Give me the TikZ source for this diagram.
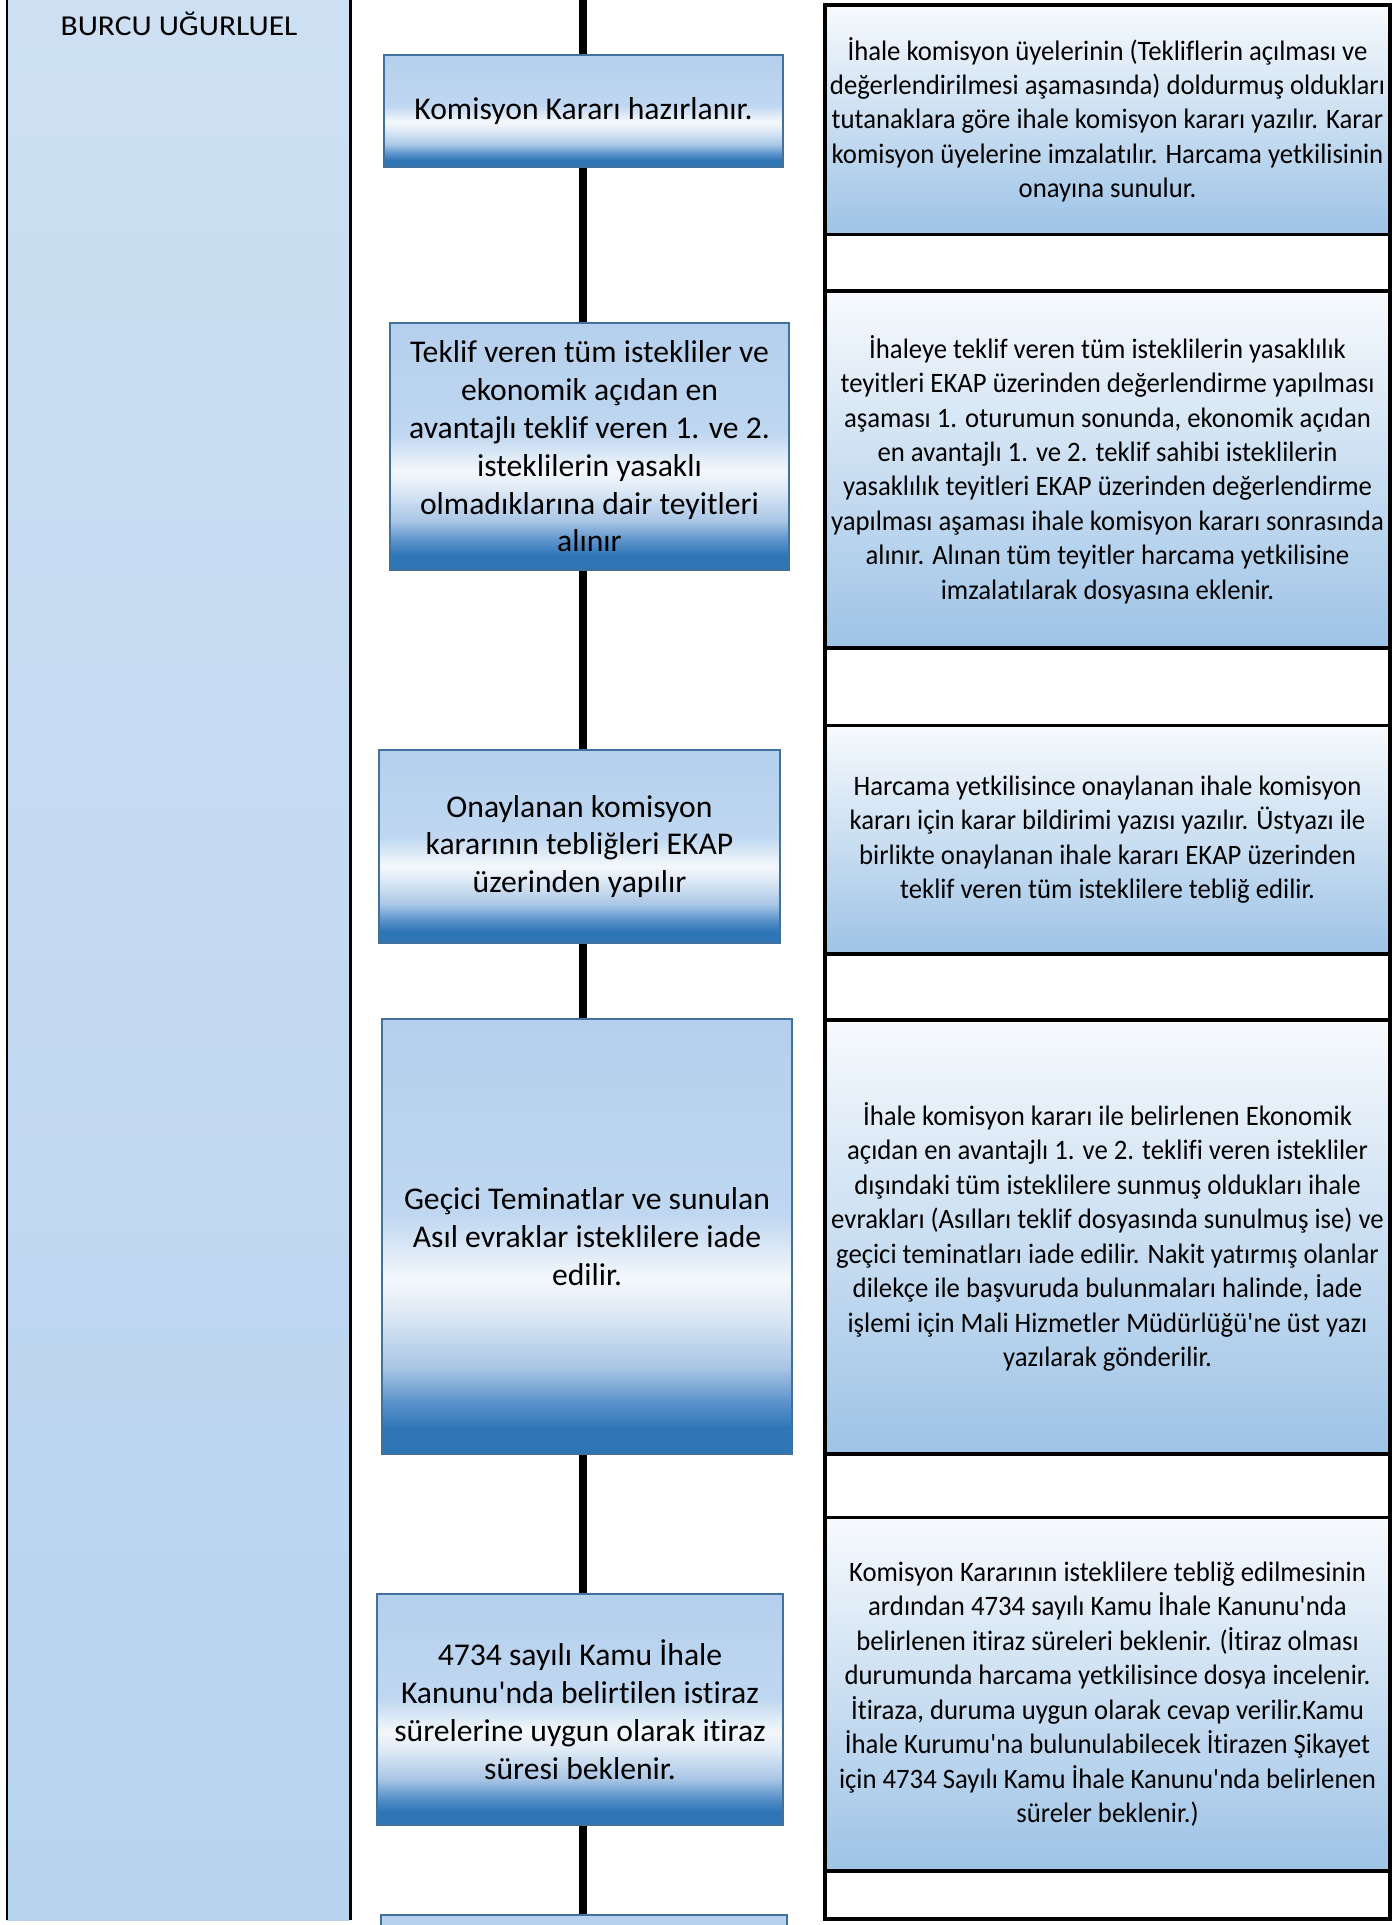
\documentclass[tikz,border=0pt]{standalone}
\usepackage{fontspec}
\setmainfont{Carlito}[Ligatures=NoCommon]
\newfontfamily\stepfont{Carlito}[Ligatures=NoCommon]
\newfontfamily\descfont{Carlito}[Ligatures=NoCommon, FakeStretch=0.95]
\newfontfamily\lanefont{Carlito}[Ligatures=NoCommon, FakeStretch=1.09]

\definecolor{stepedge}{HTML}{41719C}
\definecolor{desctop}{HTML}{F7FAFD}
\definecolor{descbot}{HTML}{9DC3E6}
\definecolor{lanetop}{HTML}{CDE0F3}
\definecolor{lanebot}{HTML}{B8D3EE}
\definecolor{stepa}{HTML}{2E75B6}
\definecolor{stepb}{HTML}{5C93CB}
\definecolor{stepc}{HTML}{A9C6E5}
\definecolor{stepd}{HTML}{DCE8F5}
\definecolor{stepe}{HTML}{F4F8FC}
\definecolor{stepf}{HTML}{BFD7F0}
\definecolor{stepg}{HTML}{B5D0ED}

\pgfdeclareverticalshading{stepshade}{100bp}{%
    color(0bp)=(stepa); color(28bp)=(stepa);
    color(31bp)=(stepb); color(35bp)=(stepc);
    color(41bp)=(stepd); color(45bp)=(stepe);
    color(52.5bp)=(stepf); color(75bp)=(stepg);
    color(100bp)=(stepg)}

\begin{document}
\begin{tikzpicture}[
                x=0.01cm, y=-0.01cm,
                stepbox/.style={rectangle, draw=stepedge, line width=0.6pt, shading=stepshade,
                        inner sep=0pt, align=center, font=\stepfont\fontsize{9}{10.75}\selectfont},
                descbox/.style={rectangle, draw=black, line width=1pt, top color=desctop, bottom color=descbot,
                        inner sep=0pt, align=center, minimum width=5.65cm, font=\descfont\fontsize{8}{9.8}\selectfont}
            ]

            \useasboundingbox (0,0) rectangle (1396,1925);

            \shade[top color=lanetop, bottom color=lanebot] (7,0) rectangle (350,1920);
            \draw[line width=0.85pt] (7,0) -- (7,1920) (350,0) -- (350,1920);
            \node[anchor=base, font=\lanefont\fontsize{8.2}{9.8}\selectfont] (lane) at (179,36) {BURCU UĞURLUEL};

            \coordinate (ltop) at (583,0);
            \coordinate (lbot) at (583,1925);
            \draw[line width=2pt] (ltop) -- (lbot);

            \node[stepbox, minimum width=3.99cm, minimum height=1.12cm] (k1) at (583.5,111)
                {Komisyon Kararı hazırlanır.};
            \node[stepbox, minimum width=3.99cm, minimum height=2.47cm] (k2) at (589.5,446.5)
                {Teklif veren tüm istekliler ve\\ekonomik açıdan en\\avantajlı teklif veren 1. ve 2.\\isteklilerin yasaklı\\olmadıklarına dair teyitleri\\alınır};
            \node[stepbox, minimum width=4.01cm, minimum height=1.93cm] (k3) at (579.5,846.5)
                {Onaylanan komisyon\\kararının tebliğleri EKAP\\üzerinden yapılır};
            \node[stepbox, minimum width=4.10cm, minimum height=4.35cm] (k4) at (587,1236.5)
                {Geçici Teminatlar ve sunulan\\Asıl evraklar isteklilere iade\\edilir.};
            \node[stepbox, minimum width=4.06cm, minimum height=2.31cm] (k5) at (580,1709.5)
                {4734 sayılı Kamu İhale\\Kanunu\textquotesingle nda belirtilen istiraz\\sürelerine uygun olarak itiraz\\süresi beklenir.};
            \node[stepbox, minimum width=4.06cm, minimum height=1cm] (k6) at (584,1965) {};

            \draw[line width=1pt] (825,5) rectangle (1390,1919);

            \node[descbox, minimum height=2.295cm] (d1) at (1107.5,119.75)
                {İhale komisyon üyelerinin (Tekliflerin açılması ve\\
                 değerlendirilmesi aşamasında) doldurmuş oldukları\\
                 tutanaklara göre ihale komisyon kararı yazılır. Karar\\
                 komisyon üyelerine imzalatılır. Harcama yetkilisinin\\
                 onayına sunulur.};
            \node[descbox, minimum height=3.57cm] (d2) at (1107.5,469.5)
                {İhaleye teklif veren tüm isteklilerin yasaklılık\\
                 teyitleri EKAP üzerinden değerlendirme yapılması\\
                 aşaması 1. oturumun sonunda, ekonomik açıdan\\
                 en avantajlı 1. ve 2. teklif sahibi isteklilerin\\
                 yasaklılık teyitleri EKAP üzerinden değerlendirme\\
                 yapılması aşaması ihale komisyon kararı sonrasında\\
                 alınır. Alınan tüm teyitler harcama yetkilisine\\
                 imzalatılarak dosyasına eklenir.};
            \node[descbox, minimum height=2.284cm] (d3) at (1107.5,839.8)
                {Harcama yetkilisince onaylanan ihale komisyon\\
                 kararı için karar bildirimi yazısı yazılır. Üstyazı ile\\
                 birlikte onaylanan ihale kararı EKAP üzerinden\\
                 teklif veren tüm isteklilere tebliğ edilir.};
            \node[descbox, minimum height=4.34cm] (d4) at (1107.5,1237)
                {İhale komisyon kararı ile belirlenen Ekonomik\\
                 açıdan en avantajlı 1. ve 2. teklifi veren istekliler\\
                 dışındaki tüm isteklilere sunmuş oldukları ihale\\
                 evrakları (Asılları teklif dosyasında sunulmuş ise) ve\\
                 geçici teminatları iade edilir. Nakit yatırmış olanlar\\
                 dilekçe ile başvuruda bulunmaları halinde, İade\\
                 işlemi için Mali Hizmetler Müdürlüğü\textquotesingle ne üst yazı\\
                 yazılarak gönderilir.};
            \node[descbox, minimum height=3.534cm] (d5) at (1107.5,1694.3)
                {Komisyon Kararının isteklilere tebliğ edilmesinin\\
                 ardından 4734 sayılı Kamu İhale Kanunu\textquotesingle nda\\
                 belirlenen itiraz süreleri beklenir. (İtiraz olması\\
                 durumunda harcama yetkilisince dosya incelenir.\\
                 İtiraza, duruma uygun olarak cevap verilir.Kamu\\
                 İhale Kurumu\textquotesingle na bulunulabilecek İtirazen Şikayet\\
                 için 4734 Sayılı Kamu İhale Kanunu\textquotesingle nda belirlenen\\
                 süreler beklenir.)};

        \end{tikzpicture}
\end{document}
